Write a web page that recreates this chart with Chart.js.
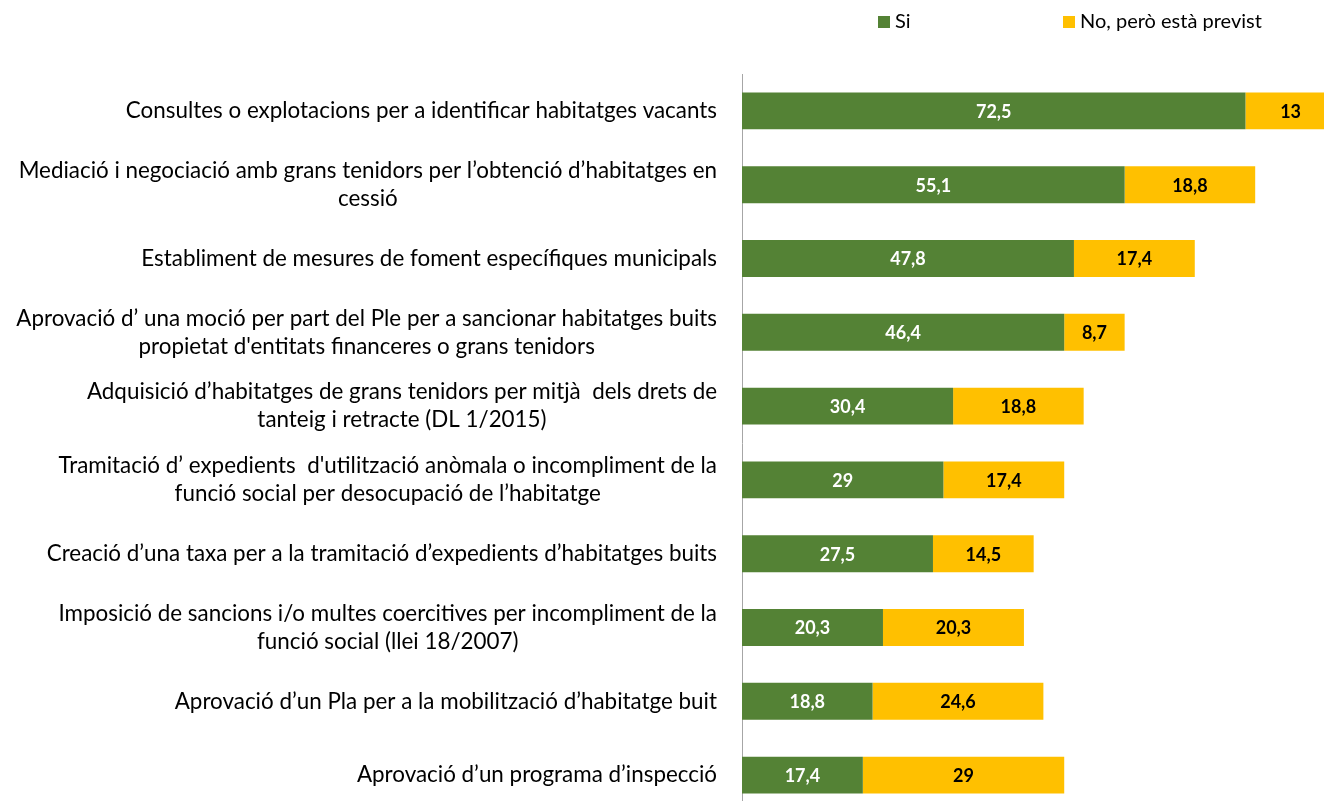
<!DOCTYPE html>
<html>
<head>
<meta charset="utf-8">
<script src="https://cdn.jsdelivr.net/npm/chart.js@4.4.1/dist/chart.umd.min.js"></script>
<style>
    html, body { margin: 0; padding: 0; background: #fff; overflow: hidden; }
    #wrap { width: 1324px; height: 801px; overflow: hidden; position: relative; }
    canvas { display: block; }
</style>
</head>
<body>
<div id="wrap"><canvas id="chart" width="1367" height="812"></canvas></div>
<script>
// Categories (top to bottom), multi-line where the original wraps
const categories = [
    'Consultes o explotacions per a identificar habitatges vacants',
    ['Mediació i negociació amb grans tenidors per l’obtenció d’habitatges en', 'cessió'],
    'Establiment de mesures de foment específiques municipals',
    ['Aprovació d’ una moció per part del Ple per a sancionar habitatges buits', 'propietat d\'entitats financeres o grans tenidors'],
    ['Adquisició d’habitatges de grans tenidors per mitjà  dels drets de', 'tanteig i retracte (DL 1/2015)'],
    ['Tramitació d’ expedients  d\'utilització anòmala o incompliment de la', 'funció social per desocupació de l’habitatge'],
    'Creació d’una taxa per a la tramitació d’expedients d’habitatges buits',
    ['Imposició de sancions i/o multes coercitives per incompliment de la', 'funció social (llei 18/2007)'],
    'Aprovació d’un Pla per a la mobilització d’habitatge buit',
    'Aprovació d’un programa d’inspecció'
];

const siValues = [72.5, 55.1, 47.8, 46.4, 30.4, 29, 27.5, 20.3, 18.8, 17.4];
const noValues = [13, 18.8, 17.4, 8.7, 18.8, 17.4, 14.5, 20.3, 24.6, 29];

const seriesNames = ['Si', 'No, però està previst'];
const seriesColors = ['#548235', '#FFC000'];
const valueColors = ['#ffffff', '#000000'];

const FONT = 'Lato, "Open Sans", sans-serif';

// category labels: right-aligned block, lines centred inside the block
const categoryLabels = {
    id: 'categoryLabels',
    afterDraw(chart) {
        const { ctx, scales: { y } } = chart;
        const right = 717, lineH = 28;
        ctx.save();
        ctx.font = '22.4px ' + FONT;
        ctx.fillStyle = '#000';
        ctx.textAlign = 'center';
        ctx.textBaseline = 'middle';
        chart.data.labels.forEach((lab, i) => {
            const lines = Array.isArray(lab) ? lab : [lab];
            const w = Math.max(...lines.map(l => ctx.measureText(l).width));
            const cy = y.getPixelForValue(i);
            const y0 = cy - (lines.length - 1) * lineH / 2;
            lines.forEach((l, k) => ctx.fillText(l, right - w / 2, y0 + k * lineH));
        });
        ctx.restore();
    }
};

// value labels in the middle of each segment
const barValues = {
    id: 'barValues',
    afterDatasetsDraw(chart) {
        const { ctx } = chart;
        ctx.save();
        ctx.font = 'bold 18px ' + FONT;
        ctx.textAlign = 'center';
        ctx.textBaseline = 'middle';
        chart.data.datasets.forEach((ds, di) => {
            ctx.fillStyle = valueColors[di];
            chart.getDatasetMeta(di).data.forEach((bar, i) => {
                const txt = String(ds.data[i]).replace('.', ',');
                ctx.fillText(txt, (bar.x + bar.base) / 2, bar.y + 1);
            });
        });
        ctx.restore();
    }
};

// legend across the top, spaced like the original
const topLegend = {
    id: 'topLegend',
    afterDraw(chart) {
        const { ctx } = chart;
        const xs = [878, 1063];
        ctx.save();
        ctx.font = '20px ' + FONT;
        ctx.textAlign = 'left';
        ctx.textBaseline = 'middle';
        chart.data.datasets.forEach((ds, i) => {
            ctx.fillStyle = ds.backgroundColor;
            ctx.fillRect(xs[i], 16, 12, 12);
            ctx.fillStyle = '#000';
            ctx.fillText(ds.label, xs[i] + 17, 22);
        });
        ctx.restore();
    }
};

new Chart(document.getElementById('chart'), {
    type: 'bar',
    data: {
        labels: categories,
        datasets: [
            { label: seriesNames[0], data: siValues, backgroundColor: seriesColors[0] },
            { label: seriesNames[1], data: noValues, backgroundColor: seriesColors[1] }
        ]
    },
    options: {
        indexAxis: 'y',
        responsive: false,
        animation: false,
        layout: { padding: { top: 74, left: 0, right: 0, bottom: 0 } },
        datasets: { bar: { categoryPercentage: 1, barPercentage: 0.5 } },
        plugins: { legend: { display: false }, tooltip: { enabled: false } },
        scales: {
            x: { stacked: true, display: false, min: 0, max: 90 },
            y: {
                stacked: true,
                grid: { display: false },
                border: { display: true, color: '#a6a6a6', width: 1 },
                ticks: { display: false },
                afterFit: scale => { scale.width = 742; }
            }
        }
    },
    plugins: [categoryLabels, barValues, topLegend]
});
</script>
</body>
</html>
